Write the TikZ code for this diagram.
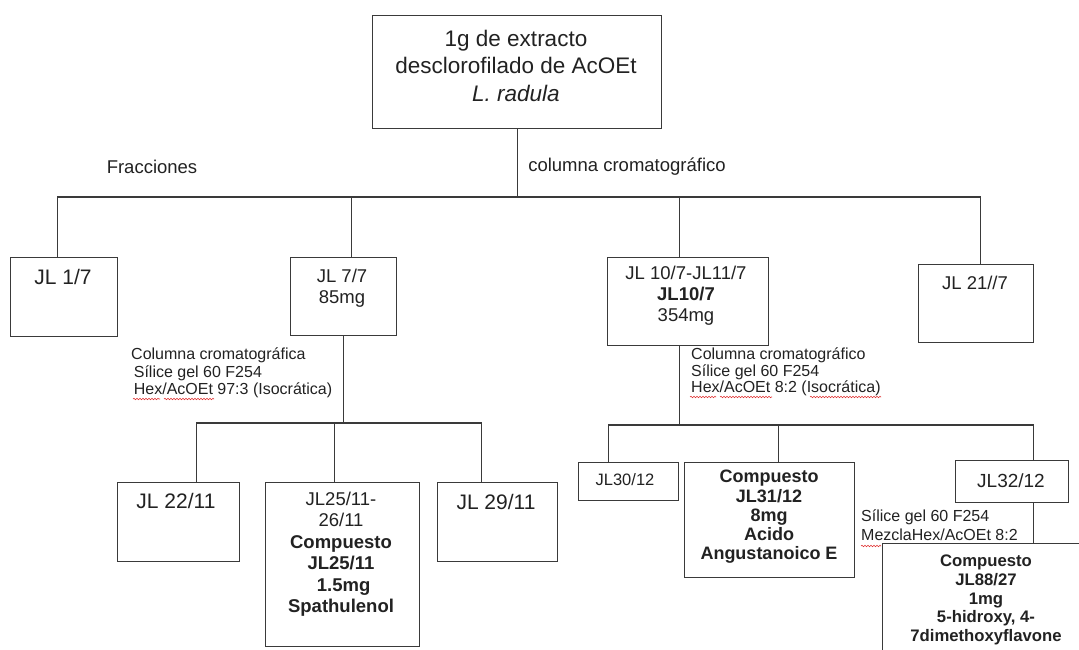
\documentclass[tikz,border=0pt]{standalone}
\usepackage{fontspec}
\setmainfont{Liberation Sans}
\usetikzlibrary{decorations.pathmorphing}
\definecolor{linec}{HTML}{3A3A3A}
\definecolor{txtc}{HTML}{222222}
\definecolor{squig}{HTML}{E03030}
\tikzset{
  box/.style={draw=linec, line width=1.1pt, anchor=north west, inner sep=0pt, fill=white},
  txt/.style={inner sep=0pt, text=txtc, align=center},
  lbl/.style={inner sep=0pt, text=txtc, align=left, anchor=north west},
  conn/.style={draw=linec, line width=1.1pt},
  spell/.style={draw=squig, line width=0.6pt, decorate, decoration={snake, segment length=3pt, amplitude=0.7pt}}
}
\newcommand{\fs}[2]{\fontsize{#1}{#2}\selectfont}
\begin{document}
\begin{tikzpicture}[x=1pt, y=-1pt]
\useasboundingbox[fill=white] (0,0) rectangle (1079,650);
\begin{scope}
\clip (0,0) rectangle (1079,650);
% boxes
\node[box, minimum width=289, minimum height=113] (top) at (372,15) {};
\node[box, minimum width=107, minimum height=79] (jl1) at (10,257) {};
\node[box, minimum width=106, minimum height=78] (jl7) at (290,257) {};
\node[box, minimum width=161, minimum height=88] (jl10) at (607,257) {};
\node[box, minimum width=115, minimum height=78] (jl21) at (918,264) {};
\node[box, minimum width=122, minimum height=79] (jl22) at (117,482) {};
\node[box, minimum width=154, minimum height=164] (jl25) at (265,482) {};
\node[box, minimum width=120, minimum height=79] (jl29) at (437,482) {};
\node[box, minimum width=100, minimum height=38] (jl30) at (578,462) {};
\node[box, minimum width=170, minimum height=115] (jl31) at (684,462) {};
\node[box, minimum width=113, minimum height=42] (jl32) at (955,460) {};
\node[box, minimum width=210, minimum height=130] (jl88) at (882,543) {};

% bus coordinates
\coordinate (bus1) at (516,197);
\coordinate (bus2) at (343,423);
\coordinate (bus3) at (678,425);

% connectors level 1
\draw[conn] (top.south) -- (top.south |- bus1);
\draw[conn] ([xshift=-6.5pt]jl1.north) -- ([xshift=-6.5pt]jl1.north |- bus1) -- ([xshift=4.5pt]jl21.north |- bus1) -- ([xshift=4.5pt]jl21.north);
\draw[conn] ([xshift=8pt]jl7.north) -- ([xshift=8pt]jl7.north |- bus1);
\draw[conn] ([xshift=-9pt]jl10.north) -- ([xshift=-9pt]jl10.north |- bus1);

% connectors level 2 (left)
\draw[conn] (jl7.south) -- (jl7.south |- bus2);
\draw[conn] ([xshift=18pt]jl22.north) -- ([xshift=18pt]jl22.north |- bus2) -- ([xshift=-16pt]jl29.north |- bus2) -- ([xshift=-16pt]jl29.north);
\draw[conn] ([xshift=-8pt]jl25.north) -- ([xshift=-8pt]jl25.north |- bus2);

% connectors level 2 (right)
\draw[conn] ([xshift=-9pt]jl10.south) -- ([xshift=-9pt]jl10.south |- bus3);
\draw[conn] ([xshift=-20pt]jl30.north) -- ([xshift=-20pt]jl30.north |- bus3) -- ([xshift=21.5pt]jl32.north |- bus3) -- ([xshift=21.5pt]jl32.north);
\draw[conn] ([xshift=9pt]jl31.north) -- ([xshift=9pt]jl31.north |- bus3);
\draw[conn] ([xshift=21.5pt]jl32.south) -- ([xshift=21.5pt]jl32.south |- jl88.north);

% texts
\node[txt, font=\fs{22.5}{27.5}] (topt) at (516,65.5) {1g de extracto\\desclorofilado de AcOEt\\\textit{L. radula}};
\node[txt, font=\fs{18.5}{21}] (frac) at (152,167) {Fracciones};
\node[txt, font=\fs{18.5}{21}] (colc) at (627,167) {columna cromatográfico};
\node[txt, font=\fs{21}{24}] (jl1t) at (63,277) {JL 1/7};
\node[txt, font=\fs{18.5}{21}] (jl7t) at (342,288.5) {JL 7/7\\85mg};
\node[txt, font=\fs{18.5}{21}] (jl10t) at (686,296) {JL 10/7-JL11/7\\\textbf{JL10/7}\\354mg};
\node[txt, font=\fs{18.5}{21}] (jl21t) at (975,283) {JL 21//7};
\node[lbl, font=\fs{16}{17.5}] (lab1) at (131,348) {Columna cromatográfica\\\,Sílice gel 60 F254\\\,Hex/AcOEt 97:3 (Isocrática)};
\node[lbl, font=\fs{16}{16.5}] (lab2) at (691,348) {Columna cromatográfico\\Sílice gel 60 F254\\Hex/AcOEt 8:2 (Isocrática)};
\node[txt, font=\fs{21}{24}] (jl22t) at (176,501) {JL 22/11};
\node[txt, font=\fs{18.5}{21.5}] (jl25t) at (341,554) {JL25/11-\\26/11\\\textbf{Compuesto}\\\textbf{JL25/11}\\\textbf{\ 1.5mg}\\\textbf{Spathulenol}};
\node[txt, font=\fs{21}{24}] (jl29t) at (496,502) {JL 29/11};
\node[txt, font=\fs{16.5}{19}] (jl30t) at (625,480) {JL30/12};
\node[txt, font=\fs{18}{19.3}\bfseries] (jl31t) at (769,517) {Compuesto\\JL31/12\\8mg\\Acido\\Angustanoico E};
\node[txt, font=\fs{19}{21}] (jl32t) at (1011,481) {JL32/12};
\node[lbl, font=\fs{16}{19}] (lab3) at (861,510) {Sílice gel 60 F254\\MezclaHex/AcOEt 8:2};
\node[txt, font=\fs{16.7}{18.8}\bfseries] (jl88t) at (986,600) {Compuesto\\JL88/27\\1mg\\5-hidroxy, 4-\\7dimethoxyflavone};

% spell-check underlines
\draw[spell] (133,399) -- (160,399);
\draw[spell] (164,399) -- (214,399);
\draw[spell] (690,397) -- (716,397);
\draw[spell] (720,397) -- (772,397);
\draw[spell] (810,397) -- (881,397);
\draw[spell] (861,546) -- (881,546);
\end{scope}
\end{tikzpicture}
\end{document}
